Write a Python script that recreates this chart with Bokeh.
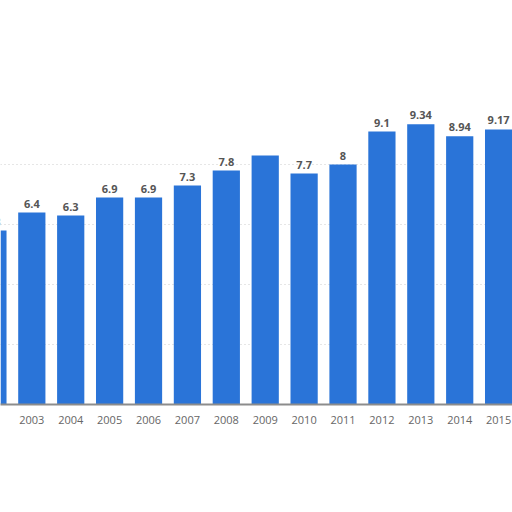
from bokeh.plotting import figure
from bokeh.models import ColumnDataSource, Range1d, FixedTicker, LabelSet
from bokeh.core.properties import value
from bokeh.embed import file_html
from bokeh.resources import INLINE

years = ["2002", "2003", "2004", "2005", "2006", "2007", "2008",
         "2009", "2010", "2011", "2012", "2013", "2014", "2015"]
values = [5.8, 6.4, 6.3, 6.9, 6.9, 7.3, 7.8, 8.3, 7.7, 8.0, 9.1, 9.34, 8.94, 9.17]
labels = ["5.8", "6.4", "6.3", "6.9", "6.9", "7.3", "7.8", "", "7.7", "8",
          "9.1", "9.34", "8.94", "9.17"]
grid_ticks = [2, 4, 6, 8]

idx = list(range(len(years)))
src = ColumnDataSource(dict(x=idx, top=values, lab=labels))

p = figure(width=512, height=512, output_backend="svg", toolbar_location=None,
           x_range=Range1d(0.195, 13.357), y_range=Range1d(0, 13.47),
           min_border_left=0, min_border_right=0, min_border_top=0,
           min_border_bottom=108)
p.outline_line_color = None
p.background_fill_color = "white"

p.vbar(x="x", top="top", width=0.70, source=src, fill_color="#2a74d8",
       line_color=None)

p.add_layout(LabelSet(x="x", y="top", text="lab", source=src,
                      text_align="center", text_baseline="bottom", y_offset=5,
                      text_font_size=value("11px"), text_font_style=value("bold"),
                      text_color=value("#555555"), text_font=value("Open Sans")))

p.yaxis.visible = False
p.xgrid.grid_line_color = None
p.ygrid.ticker = FixedTicker(ticks=grid_ticks)
p.ygrid.grid_line_color = "#cccccc"
p.ygrid.grid_line_dash = "1 3"
p.ygrid.grid_line_width = 1

p.xaxis.ticker = FixedTicker(ticks=idx)
p.xaxis.major_label_overrides = {i: y for i, y in zip(idx, years)}
p.xaxis.major_tick_line_color = None
p.xaxis.minor_tick_line_color = None
p.xaxis.axis_line_color = "#8c8c8c"
p.xaxis.axis_line_width = 2
p.xaxis.major_label_text_color = "#666666"
p.xaxis.major_label_text_font_size = "11px"
p.xaxis.major_label_text_font = "Open Sans"
p.xaxis.major_label_standoff = 5

open("out.html", "w").write(file_html(p, INLINE))
